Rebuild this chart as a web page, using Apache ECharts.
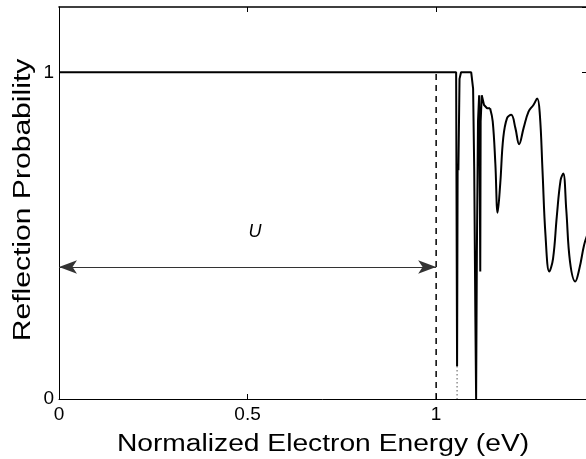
<!DOCTYPE html>
<html>
<head>
<meta charset="utf-8">
<script src="https://cdn.jsdelivr.net/npm/echarts@6/dist/echarts.min.js"></script>
<style>
  html, body { margin: 0; padding: 0; background: #fff; }
  #main { width: 586px; height: 459px; }
</style>
</head>
<body>
<div id="main"></div>
<script>
// tick values
var xTicks = [0, 0.5, 1];
var yTicks = [0, 1];

// reflection curve, sharp part (energy, probability)
var sharpPart = [
    [0, 1], [1.053, 1], [1.0555, 0.10], [1.057, 0.72], [1.059, 0.70],
    [1.062, 0.98], [1.066, 1], [1.093, 1], [1.098, 0.95], [1.101, 0.70],
    [1.104, 0.25], [1.106, 0], [1.108, 0.45], [1.111, 0.85], [1.114, 0.93],
    [1.116, 0.60], [1.117, 0.39], [1.118, 0.85], [1.121, 0.93], [1.127, 0.90],
    [1.135, 0.89], [1.143, 0.89]
];
// reflection curve, smooth oscillating part
var smoothPart = [
    [1.143, 0.89], [1.150, 0.85], [1.157, 0.72], [1.163, 0.57], [1.170, 0.66],
    [1.178, 0.80], [1.188, 0.86], [1.199, 0.87], [1.210, 0.83], [1.220, 0.78],
    [1.232, 0.83], [1.245, 0.88], [1.258, 0.90], [1.268, 0.92], [1.275, 0.87],
    [1.282, 0.70], [1.290, 0.50], [1.300, 0.39], [1.310, 0.43], [1.320, 0.56],
    [1.330, 0.67], [1.337, 0.69], [1.345, 0.58], [1.355, 0.42], [1.369, 0.36],
    [1.380, 0.40], [1.392, 0.47], [1.400, 0.50]
];
// dotted tail of first dip
var dottedTail = [[1.0555, 0.10], [1.0555, 0]];
// barrier height marker
var barrierLine = [[1, 0], [1, 1]];
var arrowY = 0.404;
var labelU = [0.52, 0.51];

var myChart = echarts.init(document.getElementById('main'));
var font = 'Liberation Sans, Arial, sans-serif';
var axLine = { show: true, onZero: false, lineStyle: { color: '#000', width: 1 } };
var tick = { show: true, inside: true, length: 5, lineStyle: { color: '#000', width: 1 } };

function pickLabel(list) {
    return function (v) {
        for (var i = 0; i < list.length; i++) {
            if (Math.abs(list[i] - v) < 1e-9) return String(list[i]);
        }
        return '';
    };
}

var option = {
    animation: false,
    backgroundColor: '#fff',
    grid: { left: 59, top: 7, right: -1, bottom: 60, outerBoundsMode: 'none' },
    xAxis: [
        {
            type: 'value', min: 0, max: 1.4, interval: 0.5,
            axisLine: axLine,
            axisTick: tick,
            axisLabel: {
                formatter: pickLabel(xTicks), showMaxLabel: false,
                fontFamily: font, fontSize: 19, color: '#000', margin: 6
            },
            splitLine: { show: false }
        },
        {
            type: 'value', min: 0, max: 1.4, interval: 0.5, position: 'top',
            axisLine: { show: true, onZero: false, lineStyle: { color: '#000', width: 1.6 } },
            axisTick: tick,
            axisLabel: { show: false },
            splitLine: { show: false }
        }
    ],
    yAxis: [
        {
            type: 'value', min: 0, max: 1.2, interval: 1,
            axisLine: axLine,
            axisTick: tick,
            axisLabel: {
                formatter: pickLabel(yTicks), showMaxLabel: false,
                fontFamily: font, fontSize: 19, color: '#000', margin: 5
            },
            splitLine: { show: false }
        },
        {
            type: 'value', min: 0, max: 1.2, interval: 1, position: 'right',
            axisLine: axLine,
            axisTick: tick,
            axisLabel: { show: false },
            splitLine: { show: false }
        }
    ],
    graphic: [
        {
            type: 'text', x: 323, y: 445, scaleX: 1.2, silent: true,
            style: {
                text: 'Normalized Electron Energy (eV)', fontFamily: font, fontSize: 23.5,
                fill: '#000', align: 'center', verticalAlign: 'middle'
            }
        },
        {
            type: 'text', x: 24, y: 200, rotation: Math.PI / 2, scaleX: 1.28, silent: true,
            style: {
                text: 'Reflection Probability', fontFamily: font, fontSize: 23.5,
                fill: '#000', align: 'center', verticalAlign: 'middle'
            }
        }
    ],
    series: [
        {
            type: 'line', data: sharpPart, symbol: 'none',
            lineStyle: { color: '#000', width: 2 }
        },
        {
            type: 'line', data: smoothPart, symbol: 'none', smooth: 0.4,
            lineStyle: { color: '#000', width: 2 }
        },
        {
            type: 'line', data: dottedTail, symbol: 'none',
            lineStyle: { color: '#000', width: 1, type: [1, 3] }
        },
        {
            type: 'line', data: barrierLine, symbol: 'none',
            lineStyle: { color: '#000', width: 1.5, type: [6, 5] },
            markLine: {
                silent: true,
                symbol: ['arrow', 'arrow'],
                symbolSize: [10, 18],
                label: { show: false },
                lineStyle: { color: '#333', width: 1, type: 'solid' },
                data: [[{ coord: [0, arrowY] }, { coord: [1, arrowY] }]]
            },
            markPoint: {
                silent: true,
                symbol: 'circle', symbolSize: 0,
                label: {
                    show: true, formatter: 'U', fontFamily: font, fontSize: 18,
                    fontStyle: 'italic', color: '#000'
                },
                data: [{ coord: labelU }]
            }
        }
    ]
};

myChart.setOption(option);
</script>
</body>
</html>
